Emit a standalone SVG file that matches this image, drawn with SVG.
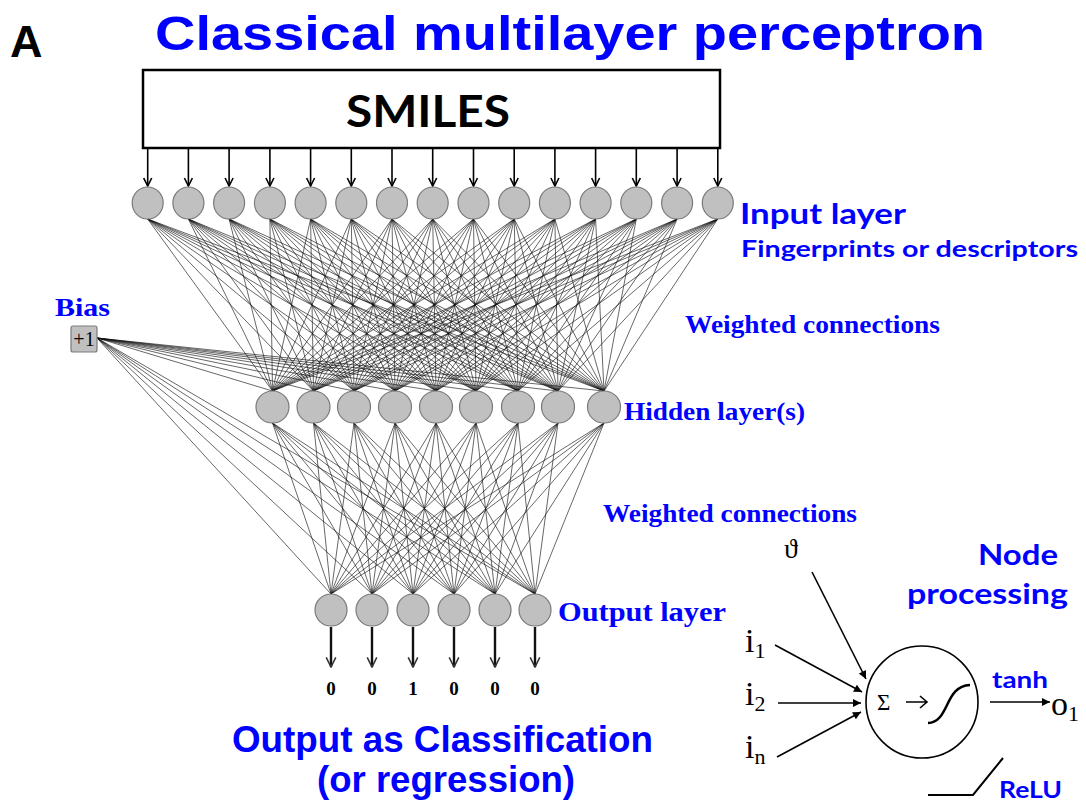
<svg xmlns="http://www.w3.org/2000/svg" width="1086" height="804" viewBox="0 0 1086 804">
<style>
.node{fill:#c0c0c0;stroke:#7a7a7a;stroke-width:1.2}
.w{fill:none;stroke:#111;stroke-width:0.75;stroke-opacity:0.85}
.blue{fill:#0000ff}
.arial{font-family:"Liberation Sans",Arial,sans-serif;font-weight:bold}
.cal{font-family:Lato,"Open Sans","Liberation Sans",sans-serif;font-weight:bold}
.serifb{font-family:"Liberation Serif","Times New Roman",serif;font-weight:bold}
.math{font-family:"Liberation Serif","DejaVu Serif",serif}
.inarrow{stroke:#000;stroke-width:1.6;fill:none}
.outarrow{stroke:#111;stroke-width:2.4;fill:none}
.thin{stroke:#000;stroke-width:1.6;fill:none}
</style>
<defs>
<marker id="openV" viewBox="0 0 10 10" refX="9" refY="5" markerWidth="10" markerHeight="10" orient="auto" markerUnits="userSpaceOnUse">
<path d="M1,1 L9,5 L1,9" fill="none" stroke="#000" stroke-width="1.6"/>
</marker>
<marker id="openV2" viewBox="0 0 10 10" refX="9" refY="5" markerWidth="12" markerHeight="12" orient="auto" markerUnits="userSpaceOnUse">
<path d="M1,1 L9,5 L1,9" fill="none" stroke="#333" stroke-width="1.3"/>
</marker>
<marker id="fillA" viewBox="0 0 10 10" refX="10" refY="5" markerWidth="10" markerHeight="8" orient="auto" markerUnits="userSpaceOnUse">
<path d="M0,0 L10,5 L0,10 z" fill="#000"/>
</marker>
</defs>
<rect width="1086" height="804" fill="#fff"/>

<text class="arial" x="10" y="57" font-size="45" fill="#000">A</text>
<text class="arial blue" x="155" y="50" font-size="48" textLength="830" lengthAdjust="spacingAndGlyphs">Classical multilayer perceptron</text>

<g id="smiles">
<rect x="143" y="70" width="577" height="78" fill="#fff" stroke="#000" stroke-width="2.5"/>
<text class="cal" x="428" y="127" font-size="44" text-anchor="middle" textLength="164" lengthAdjust="spacingAndGlyphs" fill="#000">SMILES</text>
</g>

<g id="connectors">
<g id="input-arrows" class="inarrow" marker-end="url(#openV)">
<path d="M147.7 149V186"/><path d="M188.4 149V186"/><path d="M229.1 149V186"/><path d="M269.9 149V186"/><path d="M310.6 149V186"/><path d="M351.3 149V186"/><path d="M392 149V186"/><path d="M432.7 149V186"/><path d="M473.5 149V186"/><path d="M514.2 149V186"/><path d="M554.9 149V186"/><path d="M595.6 149V186"/><path d="M636.3 149V186"/><path d="M677.1 149V186"/><path d="M717.8 149V186"/>
</g>
<g id="input-hidden" class="w">
<path d="M147.7 219L272.5 391M147.7 219L313.5 391M147.7 219L354 391M147.7 219L395 391M147.7 219L436 391M147.7 219L476 391M147.7 219L518 391M147.7 219L558 391M147.7 219L604 391"/>
<path d="M188.4 219L272.5 391M188.4 219L313.5 391M188.4 219L354 391M188.4 219L395 391M188.4 219L436 391M188.4 219L476 391M188.4 219L518 391M188.4 219L558 391M188.4 219L604 391"/>
<path d="M229.1 219L272.5 391M229.1 219L313.5 391M229.1 219L354 391M229.1 219L395 391M229.1 219L436 391M229.1 219L476 391M229.1 219L518 391M229.1 219L558 391M229.1 219L604 391"/>
<path d="M269.9 219L272.5 391M269.9 219L313.5 391M269.9 219L354 391M269.9 219L395 391M269.9 219L436 391M269.9 219L476 391M269.9 219L518 391M269.9 219L558 391M269.9 219L604 391"/>
<path d="M310.6 219L272.5 391M310.6 219L313.5 391M310.6 219L354 391M310.6 219L395 391M310.6 219L436 391M310.6 219L476 391M310.6 219L518 391M310.6 219L558 391M310.6 219L604 391"/>
<path d="M351.3 219L272.5 391M351.3 219L313.5 391M351.3 219L354 391M351.3 219L395 391M351.3 219L436 391M351.3 219L476 391M351.3 219L518 391M351.3 219L558 391M351.3 219L604 391"/>
<path d="M392 219L272.5 391M392 219L313.5 391M392 219L354 391M392 219L395 391M392 219L436 391M392 219L476 391M392 219L518 391M392 219L558 391M392 219L604 391"/>
<path d="M432.7 219L272.5 391M432.7 219L313.5 391M432.7 219L354 391M432.7 219L395 391M432.7 219L436 391M432.7 219L476 391M432.7 219L518 391M432.7 219L558 391M432.7 219L604 391"/>
<path d="M473.5 219L272.5 391M473.5 219L313.5 391M473.5 219L354 391M473.5 219L395 391M473.5 219L436 391M473.5 219L476 391M473.5 219L518 391M473.5 219L558 391M473.5 219L604 391"/>
<path d="M514.2 219L272.5 391M514.2 219L313.5 391M514.2 219L354 391M514.2 219L395 391M514.2 219L436 391M514.2 219L476 391M514.2 219L518 391M514.2 219L558 391M514.2 219L604 391"/>
<path d="M554.9 219L272.5 391M554.9 219L313.5 391M554.9 219L354 391M554.9 219L395 391M554.9 219L436 391M554.9 219L476 391M554.9 219L518 391M554.9 219L558 391M554.9 219L604 391"/>
<path d="M595.6 219L272.5 391M595.6 219L313.5 391M595.6 219L354 391M595.6 219L395 391M595.6 219L436 391M595.6 219L476 391M595.6 219L518 391M595.6 219L558 391M595.6 219L604 391"/>
<path d="M636.3 219L272.5 391M636.3 219L313.5 391M636.3 219L354 391M636.3 219L395 391M636.3 219L436 391M636.3 219L476 391M636.3 219L518 391M636.3 219L558 391M636.3 219L604 391"/>
<path d="M677.1 219L272.5 391M677.1 219L313.5 391M677.1 219L354 391M677.1 219L395 391M677.1 219L436 391M677.1 219L476 391M677.1 219L518 391M677.1 219L558 391M677.1 219L604 391"/>
<path d="M717.8 219L272.5 391M717.8 219L313.5 391M717.8 219L354 391M717.8 219L395 391M717.8 219L436 391M717.8 219L476 391M717.8 219L518 391M717.8 219L558 391M717.8 219L604 391"/>
</g>
<g id="hidden-output" class="w">
<path d="M272.5 423L331 594M272.5 423L372 594M272.5 423L413 594M272.5 423L454 594M272.5 423L495 594M272.5 423L535 594"/>
<path d="M313.5 423L331 594M313.5 423L372 594M313.5 423L413 594M313.5 423L454 594M313.5 423L495 594M313.5 423L535 594"/>
<path d="M354 423L331 594M354 423L372 594M354 423L413 594M354 423L454 594M354 423L495 594M354 423L535 594"/>
<path d="M395 423L331 594M395 423L372 594M395 423L413 594M395 423L454 594M395 423L495 594M395 423L535 594"/>
<path d="M436 423L331 594M436 423L372 594M436 423L413 594M436 423L454 594M436 423L495 594M436 423L535 594"/>
<path d="M476 423L331 594M476 423L372 594M476 423L413 594M476 423L454 594M476 423L495 594M476 423L535 594"/>
<path d="M518 423L331 594M518 423L372 594M518 423L413 594M518 423L454 594M518 423L495 594M518 423L535 594"/>
<path d="M558 423L331 594M558 423L372 594M558 423L413 594M558 423L454 594M558 423L495 594M558 423L535 594"/>
<path d="M604 423L331 594M604 423L372 594M604 423L413 594M604 423L454 594M604 423L495 594M604 423L535 594"/>
</g>
<g id="bias-lines" class="w">
<path d="M97 338L272.5 391M97 338L313.5 391M97 338L354 391M97 338L395 391M97 338L436 391M97 338L476 391M97 338L518 391M97 338L558 391M97 338L604 391"/>
<path d="M97 338L331 594M97 338L372 594M97 338L413 594M97 338L454 594M97 338L495 594M97 338L535 594"/>
</g>
<g id="output-arrows" class="outarrow" marker-end="url(#openV2)">
<path d="M331 627V667"/><path d="M372 627V667"/><path d="M413 627V667"/><path d="M454 627V667"/><path d="M495 627V667"/><path d="M535 627V667"/>
</g>
</g>

<g id="input-layer">
<g id="in1"><ellipse class="node" cx="147.7" cy="203" rx="15.5" ry="16"/></g>
<g id="in2"><ellipse class="node" cx="188.4" cy="203" rx="15.5" ry="16"/></g>
<g id="in3"><ellipse class="node" cx="229.1" cy="203" rx="15.5" ry="16"/></g>
<g id="in4"><ellipse class="node" cx="269.9" cy="203" rx="15.5" ry="16"/></g>
<g id="in5"><ellipse class="node" cx="310.6" cy="203" rx="15.5" ry="16"/></g>
<g id="in6"><ellipse class="node" cx="351.3" cy="203" rx="15.5" ry="16"/></g>
<g id="in7"><ellipse class="node" cx="392" cy="203" rx="15.5" ry="16"/></g>
<g id="in8"><ellipse class="node" cx="432.7" cy="203" rx="15.5" ry="16"/></g>
<g id="in9"><ellipse class="node" cx="473.5" cy="203" rx="15.5" ry="16"/></g>
<g id="in10"><ellipse class="node" cx="514.2" cy="203" rx="15.5" ry="16"/></g>
<g id="in11"><ellipse class="node" cx="554.9" cy="203" rx="15.5" ry="16"/></g>
<g id="in12"><ellipse class="node" cx="595.6" cy="203" rx="15.5" ry="16"/></g>
<g id="in13"><ellipse class="node" cx="636.3" cy="203" rx="15.5" ry="16"/></g>
<g id="in14"><ellipse class="node" cx="677.1" cy="203" rx="15.5" ry="16"/></g>
<g id="in15"><ellipse class="node" cx="717.8" cy="203" rx="15.5" ry="16"/></g>
</g>

<g id="hidden-layer">
<g id="h1"><ellipse class="node" cx="272.5" cy="407" rx="16.5" ry="16"/></g>
<g id="h2"><ellipse class="node" cx="313.5" cy="407" rx="16.5" ry="16"/></g>
<g id="h3"><ellipse class="node" cx="354" cy="407" rx="16.5" ry="16"/></g>
<g id="h4"><ellipse class="node" cx="395" cy="407" rx="16.5" ry="16"/></g>
<g id="h5"><ellipse class="node" cx="436" cy="407" rx="16.5" ry="16"/></g>
<g id="h6"><ellipse class="node" cx="476" cy="407" rx="16.5" ry="16"/></g>
<g id="h7"><ellipse class="node" cx="518" cy="407" rx="16.5" ry="16"/></g>
<g id="h8"><ellipse class="node" cx="558" cy="407" rx="16.5" ry="16"/></g>
<g id="h9"><ellipse class="node" cx="604" cy="407" rx="16.5" ry="16"/></g>
</g>

<g id="output-layer">
<g id="o1"><ellipse class="node" cx="331" cy="610" rx="16" ry="16"/></g>
<g id="o2"><ellipse class="node" cx="372" cy="610" rx="16" ry="16"/></g>
<g id="o3"><ellipse class="node" cx="413" cy="610" rx="16" ry="16"/></g>
<g id="o4"><ellipse class="node" cx="454" cy="610" rx="16" ry="16"/></g>
<g id="o5"><ellipse class="node" cx="495" cy="610" rx="16" ry="16"/></g>
<g id="o6"><ellipse class="node" cx="535" cy="610" rx="16" ry="16"/></g>
</g>

<g id="output-values" class="serifb" font-size="19" text-anchor="middle" fill="#000">
<text x="331" y="695">0</text><text x="372" y="695">0</text><text x="413" y="695">1</text><text x="454" y="695">0</text><text x="495" y="695">0</text><text x="535" y="695">0</text>
</g>

<g id="bias">
<text class="serifb blue" x="55" y="316" font-size="26" textLength="55" lengthAdjust="spacingAndGlyphs">Bias</text>
<rect x="71" y="326" width="26" height="26" rx="2" fill="#c0c0c0" stroke="#7a7a7a" stroke-width="1.2"/>
<text class="math" x="84" y="346" font-size="20" text-anchor="middle" fill="#000">+1</text>
</g>

<g id="labels">
<text class="cal blue" x="740" y="224" font-size="28" textLength="166" lengthAdjust="spacingAndGlyphs">Input layer</text>
<text class="cal blue" x="741" y="257" font-size="23" textLength="337" lengthAdjust="spacingAndGlyphs">Fingerprints or descriptors</text>
<text class="serifb blue" x="685" y="333" font-size="25" textLength="255" lengthAdjust="spacingAndGlyphs">Weighted  connections</text>
<text class="serifb blue" x="624" y="420" font-size="26" textLength="181" lengthAdjust="spacingAndGlyphs">Hidden layer(s)</text>
<text class="serifb blue" x="603" y="522" font-size="25" textLength="254" lengthAdjust="spacingAndGlyphs">Weighted  connections</text>
<text class="serifb blue" x="558" y="621" font-size="27" textLength="168" lengthAdjust="spacingAndGlyphs">Output layer</text>
<text class="arial blue" x="232" y="752" font-size="37" textLength="421" lengthAdjust="spacingAndGlyphs">Output  as Classification</text>
<text class="arial blue" x="317" y="792" font-size="37" textLength="258" lengthAdjust="spacingAndGlyphs">(or regression)</text>
</g>

<g id="node-processing">
<text class="cal blue" x="1058" y="565" font-size="29" text-anchor="end" textLength="80" lengthAdjust="spacingAndGlyphs">Node</text>
<text class="cal blue" x="907" y="604" font-size="29" textLength="161" lengthAdjust="spacingAndGlyphs">processing</text>
<text class="math" x="784" y="558" font-size="28" fill="#000">ϑ</text>
<text class="math" x="745" y="652" font-size="34" fill="#000">i<tspan font-size="22" dy="6">1</tspan></text>
<text class="math" x="745" y="705" font-size="34" fill="#000">i<tspan font-size="22" dy="6">2</tspan></text>
<text class="math" x="745" y="758" font-size="34" fill="#000">i<tspan font-size="22" dy="6">n</tspan></text>
<g class="thin" marker-end="url(#fillA)">
<path d="M812 572L866 679"/>
<path d="M775 645L862 692"/>
<path d="M778 703H861"/>
<path d="M777 757L861 712"/>
<path d="M990 702H1050"/>
</g>
<circle cx="922" cy="702" r="56" fill="none" stroke="#000" stroke-width="1.6"/>
<text class="math" x="877" y="710" font-size="23" fill="#000">Σ</text>
<path d="M906 702H927M920 696L927 702L920 708" fill="none" stroke="#000" stroke-width="1.6"/>
<path d="M928 723C950 722 944 686 970 685" fill="none" stroke="#000" stroke-width="2.5"/>
<text class="cal blue" x="992" y="688" font-size="22" textLength="56" lengthAdjust="spacingAndGlyphs">tanh</text>
<text class="math" x="1051" y="715" font-size="34" fill="#000">o<tspan font-size="22" dy="6">1</tspan></text>
<path d="M928 795H973L1003 758" fill="none" stroke="#000" stroke-width="2"/>
<text class="cal blue" x="999" y="798" font-size="23" textLength="63" lengthAdjust="spacingAndGlyphs">ReLU</text>
</g>
</svg>
